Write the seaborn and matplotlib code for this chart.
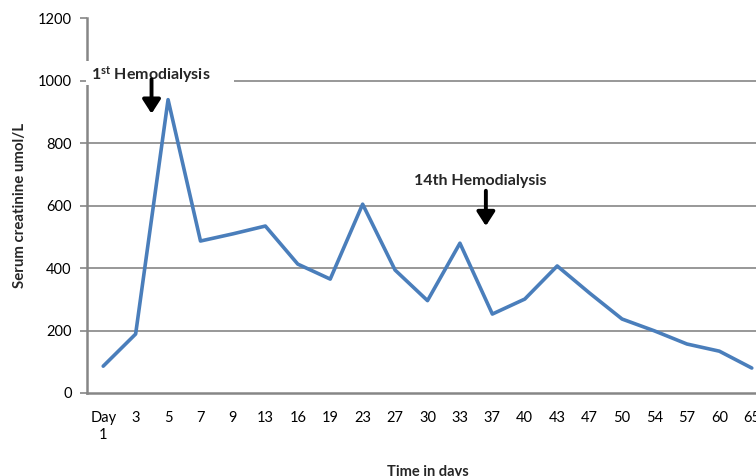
import matplotlib

matplotlib.use("Agg")
import matplotlib.pyplot as plt
import matplotlib.patches as mpatches
import pandas as pd
import seaborn as sns

# Day labels (category axis) and serum creatinine readings
days = ["Day\n1", "3", "5", "7", "9", "13", "16", "19", "23", "27", "30",
        "33", "37", "40", "43", "47", "50", "54", "57", "60", "65"]
creatinine = [86, 189, 940, 487, 510, 535, 413, 365, 605, 394, 296,
              480, 253, 301, 407, 320, 237, 199, 157, 134, 80]
y_ticks = [0, 200, 400, 600, 800, 1000, 1200]

sns.set_theme(style="white")
plt.rcParams["font.family"] = ["Lato", "DejaVu Sans"]
plt.rcParams["mathtext.fontset"] = "custom"
plt.rcParams["mathtext.rm"] = "Lato:bold"
plt.rcParams["mathtext.bf"] = "Lato:bold"

df = pd.DataFrame({"day": days, "value": creatinine})

W, H = 756, 476
fig = plt.figure(figsize=(W / 100, H / 100), dpi=100)
# plot area runs past the right edge, like the cropped original
left, right, top, bottom = 87, 768, 18.5, 393
ax = fig.add_axes([left / W, 1 - bottom / H, (right - left) / W, (bottom - top) / H])

grid_c = "#868686"
for yv in y_ticks[1:]:
    ax.axhline(yv, color=grid_c, lw=1.2, zorder=1)

sns.lineplot(data=df, x="day", y="value", ax=ax, color="#4A7EBB", lw=2.6,
             sort=False, zorder=4)

ax.set_xlim(-0.5, len(days) - 0.5)
ax.set_ylim(0, 1200)
ax.set_yticks(y_ticks)
ax.set_xticks(range(len(days)))
ax.set_xticklabels(days, fontsize=10.5, color="black", linespacing=1.3, va="top")
ax.tick_params(axis="x", length=0, pad=13)
ax.tick_params(axis="y", length=5, width=1.2, color=grid_c, pad=6,
               labelsize=10.5, labelcolor="black", left=True)

for side in ["top", "right"]:
    ax.spines[side].set_visible(False)
for side in ["left", "bottom"]:
    ax.spines[side].set_color(grid_c)
    ax.spines[side].set_linewidth(1.8)

ax.set_xlabel("Time in days", fontsize=10.5, fontweight="bold", labelpad=16)
ax.set_ylabel("Serum creatinine umol/L", fontsize=10.8, fontweight="bold", labelpad=8)

# white box behind the first label hides gridline and axis
ax.add_patch(mpatches.Rectangle((-0.52, 988), 4.55, 76, facecolor="white",
                                edgecolor="none", zorder=3, clip_on=False))
ax.text(-0.37, 1020, r"$\mathbf{1^{st}}$ Hemodialysis", fontsize=11.5,
        fontweight="bold", va="center", ha="left", zorder=5)
arrow = dict(arrowstyle="-|>,head_width=0.45,head_length=0.7",
             color="black", lw=2.8, shrinkA=0, shrinkB=0)
ax.annotate("", xy=(1.49, 895), xytext=(1.49, 1005), arrowprops=arrow, zorder=5)

ax.text(11.62, 678, "14th Hemodialysis", fontsize=11.5, fontweight="bold",
        va="center", ha="center", zorder=5)
ax.annotate("", xy=(11.8, 535), xytext=(11.8, 648), arrowprops=arrow, zorder=5)

fig.savefig("out.png", dpi=100)
